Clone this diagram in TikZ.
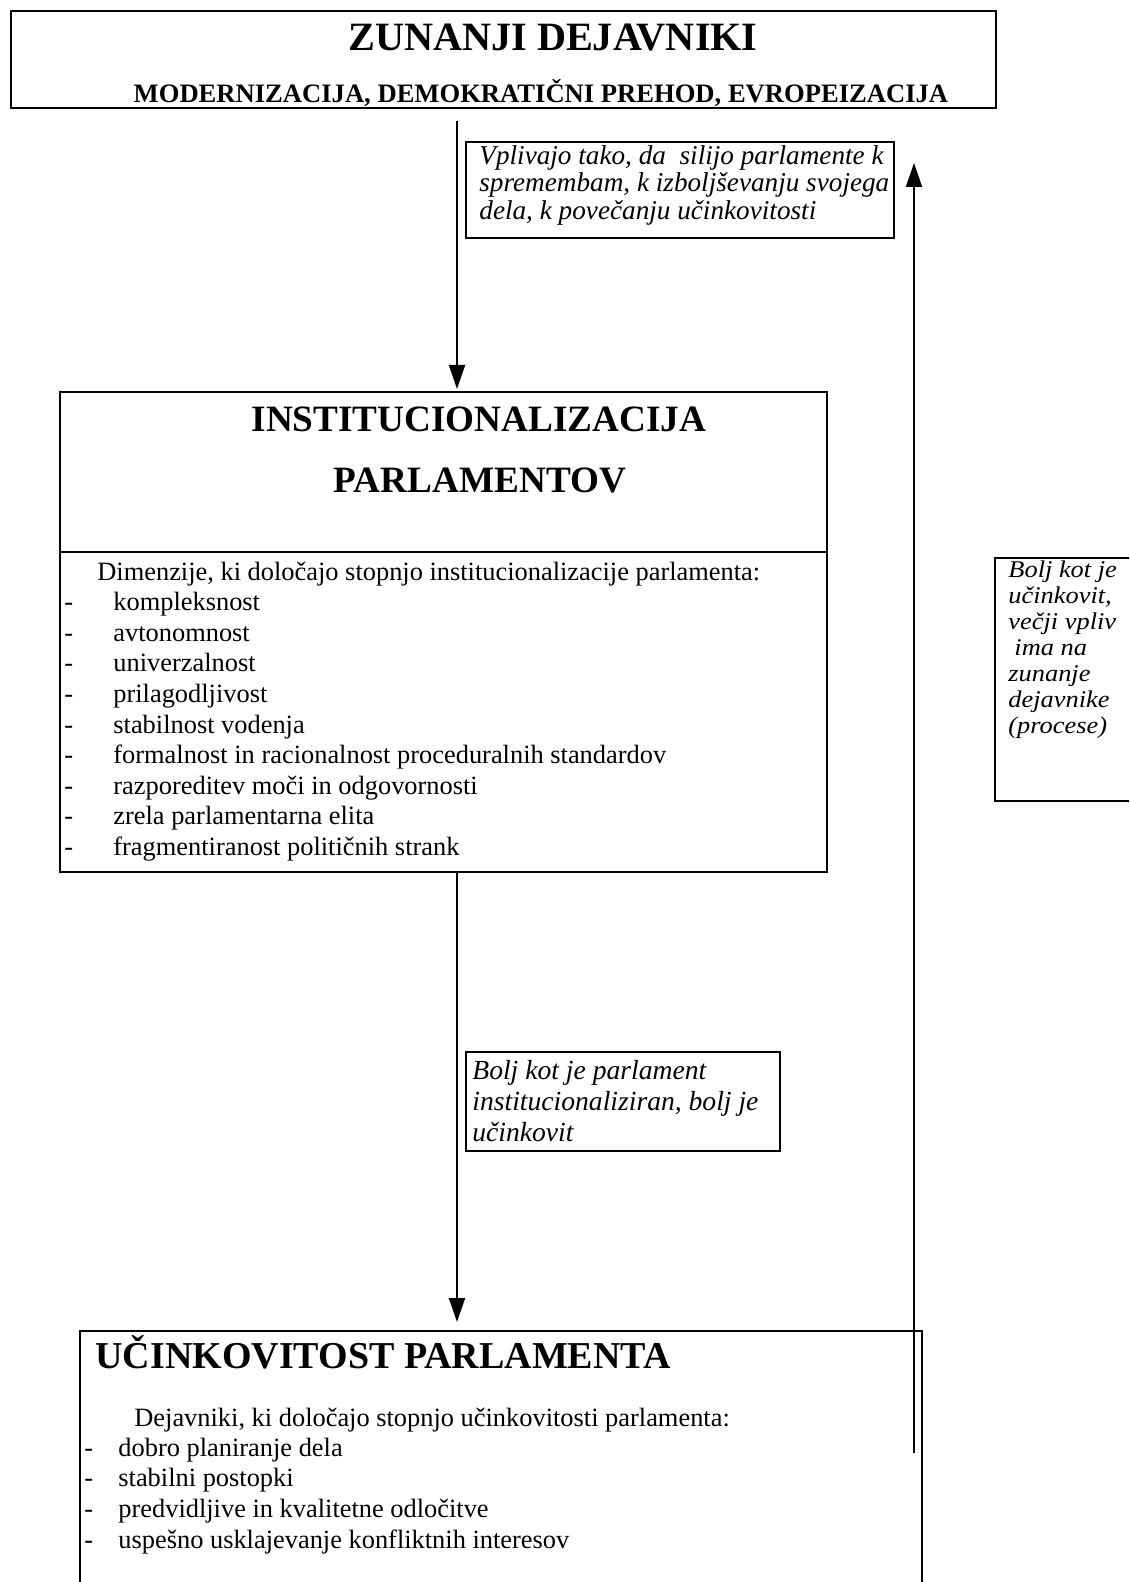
\documentclass[tikz,border=0pt]{standalone}
\usepackage{fontspec}
\setmainfont{Liberation Serif}
\newfontfamily\wideserif{Liberation Serif}[FakeStretch=1.1]
\usetikzlibrary{arrows.meta,positioning}

\begin{document}
\begin{tikzpicture}[x=0.5pt,y=-0.5pt,
  frame/.style={draw,line width=1pt,inner sep=0pt,anchor=north west},
  notebox/.style={draw,line width=0.8pt,inner sep=0pt,anchor=north west},
  flow/.style={line width=1pt,-{Triangle[width=8pt,length=12pt]}},
  bodytxt/.style={font=\fontsize{13.2}{15}\selectfont,inner sep=0pt,anchor=mid west},
  notetxt/.style={font=\fontsize{13.6}{13.7}\selectfont\itshape,inner sep=0pt,align=left,anchor=north west}]
\fill[white] (0,0) rectangle (1129,1582);
\useasboundingbox (0,0) rectangle (1129,1582);
\clip (0,0) rectangle (1129,1582);
% the four boxes, sized in pixels of the page
\node[frame,minimum width=492.5pt,minimum height=48.5pt] (ext) at (10,10) {};
\node[frame,minimum width=383.5pt,minimum height=240pt] (inst) at (59,391) {};
\node[frame,minimum width=421pt,minimum height=135pt] (eff) at (79,1330) {};
\node[frame,minimum width=73pt,minimum height=121.5pt] (back) at (994,557) {};
\draw[line width=1pt] (inst.west |- 0,552) -- (inst.east |- 0,552);
% headings
\node[font=\fontsize{20.1}{22}\selectfont\bfseries,inner sep=0pt] (exttitle) at (553,38) {ZUNANJI DEJAVNIKI};
\node[font=\fontsize{13.3}{15}\selectfont\bfseries,inner sep=0pt] (extsub) at (541,93) {MODERNIZACIJA, DEMOKRATIČNI PREHOD, EVROPEIZACIJA};
\node[font=\fontsize{18.6}{21}\selectfont\bfseries,inner sep=0pt] (insttitle) at (479,419) {INSTITUCIONALIZACIJA};
\node[font=\fontsize{18.6}{21}\selectfont\bfseries,inner sep=0pt] (insttitleb) at (480,480) {PARLAMENTOV};
\node[font=\fontsize{19}{22}\selectfont\bfseries,inner sep=0pt,anchor=west] (efftitle) at (95,1352) {UČINKOVITOST PARLAMENTA};
% dimension list
\node[bodytxt] (dimhead) at (97,576) {Dimenzije, ki določajo stopnjo institucionalizacije parlamenta:};
\foreach \dim [count=\i] in {kompleksnost,avtonomnost,univerzalnost,prilagodljivost,stabilnost vodenja,formalnost in racionalnost proceduralnih standardov,razporeditev moči in odgovornosti,zrela parlamentarna elita,fragmentiranost političnih strank}
  {\node[bodytxt] (dimdash\i) at (64,575.5+30.6*\i) {-};
   \node[bodytxt] (dim\i) at (113,575.5+30.6*\i) {\dim};}
% efficiency list
\node[bodytxt] (effhead) at (134,1422) {Dejavniki, ki določajo stopnjo učinkovitosti parlamenta:};
\foreach \fac [count=\i] in {dobro planiranje dela,stabilni postopki,predvidljive in kvalitetne odločitve,uspešno usklajevanje konfliktnih interesov}
  {\node[bodytxt] (effdash\i) at (84,1421+30.6*\i) {-};
   \node[bodytxt] (eff\i) at (118,1421+30.6*\i) {\fac};}
% notes beside the arrows
\node[notebox,minimum width=214pt,minimum height=48pt] (pushbox) at (465,141) {};
\node[notetxt] (push) at (479,145) {Vplivajo tako, da\ \ silijo parlamente k\\spremembam, k izboljševanju svojega\\dela, k povečanju učinkovitosti};
\node[notebox,minimum width=157pt,minimum height=49.5pt] (effnotebox) at (465,1051) {};
\node[notetxt,font=\fontsize{13.8}{15.5}\selectfont\itshape] (effnote) at (472,1060) {Bolj kot je parlament\\institucionaliziran, bolj je\\učinkovit};
\node[notetxt,font=\fontsize{12}{13}\selectfont\wideserif\itshape] (backnote) at (1008,560) {Bolj kot je\\učinkovit,\\večji vpliv\\\hspace*{3pt}ima na\\zunanje\\dejavnike\\(procese)};
% arrows
\coordinate (downx) at (457,121);
\coordinate (upfoot) at (914,1453);
\coordinate (uphead) at (914,163);
\draw[flow,shorten >=1pt] (downx) -- (inst.north -| downx);
\draw[flow,shorten >=4pt] (inst.south -| downx) -- (eff.north -| downx);
\draw[flow] (upfoot) -- (uphead);
\end{tikzpicture}
\end{document}
